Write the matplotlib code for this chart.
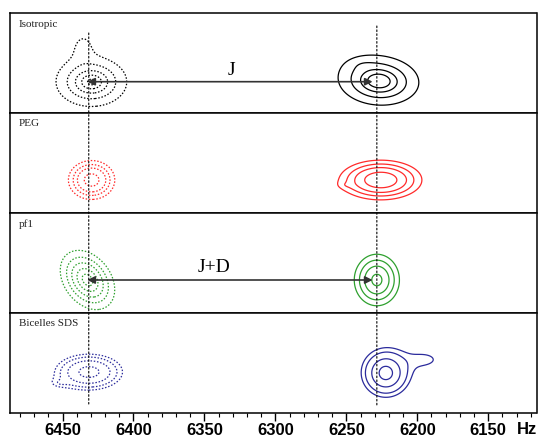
import numpy as np
import matplotlib
matplotlib.use('Agg')
from matplotlib import pyplot as plt
from matplotlib.patches import ConnectionPatch

# nombres de los paneles y colores de cada muestra
panels = ['Isotropic', 'PEG', 'pf1', 'Bicelles SDS']
colors = ['black', '#ff2a2a', '#2ea02e', '#2b2b9c']

# posiciones de las lineas punteadas verticales (Hz)
line_hz = [6431.5, 6228.5]

# picos: (centro Hz, centro y, ancho Hz, ancho y, inclinacion, amplitud)
left_peaks = [
    [(6429.5, 0.31, 5.6, 0.055, 0, 1.0), (6435.5, 0.64, 4.6, 0.10, 0, 0.07)],
    [(6429.5, 0.33, 4.2, 0.050, 0, 1.0)],
    [(6432.4, 0.33, 4.9, 0.080, 21, 1.0)],
    [(6431.3, 0.41, 7.0, 0.053, 0, 1.0), (6452.0, 0.30, 6.0, 0.040, 0, 0.05)],
]
left_levels = [
    [0.05, 0.1, 0.2, 0.4, 0.8],
    [0.062, 0.095, 0.15, 0.4],
    [0.068, 0.11, 0.18, 0.33, 0.66],
    [0.082, 0.113, 0.185, 0.5],
]
right_peaks = [
    [(6227.0, 0.32, 6.35, 0.055, 8, 1.0), (6238.0, 0.47, 8.0, 0.06, 0, 0.035)],
    [(6225.7, 0.33, 8.46, 0.058, 0, 1.0), (6250.0, 0.28, 5.0, 0.030, 0, 0.025)],
    [(6228.5, 0.33, 4.94, 0.080, 0, 1.0)],
    [(6222.2, 0.40, 5.3, 0.075, 0, 1.0), (6194.0, 0.535, 12.0, 0.085, 0, 0.08)],
]
right_levels = [
    [0.05, 0.1, 0.2, 0.4],
    [0.079, 0.117, 0.18, 0.36],
    [0.088, 0.14, 0.25, 0.66],
    [0.09, 0.125, 0.23, 0.57],
]

# flechas (panel, y, texto, x texto, y texto)
arrows = [(0, 0.313, 'J', 6331, 0.43), (2, 0.33, 'J+D', 6343, 0.45)]

xlim = (6487, 6116)
major_ticks = [6450, 6400, 6350, 6300, 6250, 6200, 6150]


def campo(H, Y, comps):
    z = np.zeros_like(H)
    for h0, y0, wh, wy, s, a in comps:
        u = (h0 - H + s * (Y - y0)) / wh
        v = (Y - y0) / wy
        z = z + a / (1 + u ** 2 + v ** 2)
    return z


fig = plt.figure(figsize=(5.42, 4.38), dpi=100)

H, Y = np.meshgrid(np.linspace(xlim[1], xlim[0], 700), np.linspace(0, 1, 250))

axes = []
for i, name in enumerate(panels):
    top = 13 + 100 * i
    ax = fig.add_axes([10 / 542, 1 - (top + 100) / 438, 526.5 / 542, 100 / 438])
    ax.set_xlim(*xlim)
    ax.set_ylim(0, 1)
    ax.set_yticks([])
    for sp in ax.spines.values():
        sp.set_linewidth(1.1)

    ax.contour(H, Y, campo(H, Y, left_peaks[i]), levels=left_levels[i],
               colors=colors[i], linewidths=0.9, linestyles=[(0, (1.2, 1.4))])
    ax.contour(H, Y, campo(H, Y, right_peaks[i]), levels=right_levels[i],
               colors=colors[i], linewidths=0.9, linestyles='solid')

    ax.text(0.017, 0.89, name, transform=ax.transAxes, ha='left', va='center',
            fontsize=8, family='Liberation Serif', color='#222222')
    axes.append(ax)

# solo el panel de abajo tiene eje x
for ax in axes[:-1]:
    ax.set_xticks([])
ax = axes[-1]
ax.set_xticks(major_ticks)
ax.set_xticks(np.arange(6480, 6110, -10), minor=True)
ax.tick_params(axis='x', which='major', direction='out', length=6, width=1, pad=1)
ax.tick_params(axis='x', which='minor', direction='out', length=3, width=0.8)
for lab in ax.get_xticklabels():
    lab.set_fontfamily('Liberation Sans')
    lab.set_fontweight('bold')
    lab.set_fontsize(12)
fig.text(527 / 542, 1 - 430 / 438, 'Hz', ha='center', va='center',
         fontsize=12, fontweight='bold', family='Liberation Sans')

# flechas J y J+D
for p, y, txt, tx, ty in arrows:
    axes[p].annotate('', xy=(line_hz[0] + 1, y), xytext=(line_hz[1] + 3, y),
                     arrowprops=dict(arrowstyle='<|-|>', color='#333333',
                                     lw=1.2, mutation_scale=11,
                                     shrinkA=0, shrinkB=0))
    axes[p].text(tx, ty, txt, ha='center', va='center', fontsize=14,
                 family='Liberation Serif')

# lineas punteadas verticales a traves de todos los paneles
for hz, y0, y1 in zip(line_hz, [0.80, 0.87], [0.09, 0.08]):
    con = ConnectionPatch((hz, y0), (hz, y1), coordsA=axes[0].transData,
                          coordsB=axes[-1].transData, color='black',
                          lw=0.8, linestyle=(0, (1.5, 2)))
    fig.add_artist(con)

plt.savefig('out.png', dpi=100)
